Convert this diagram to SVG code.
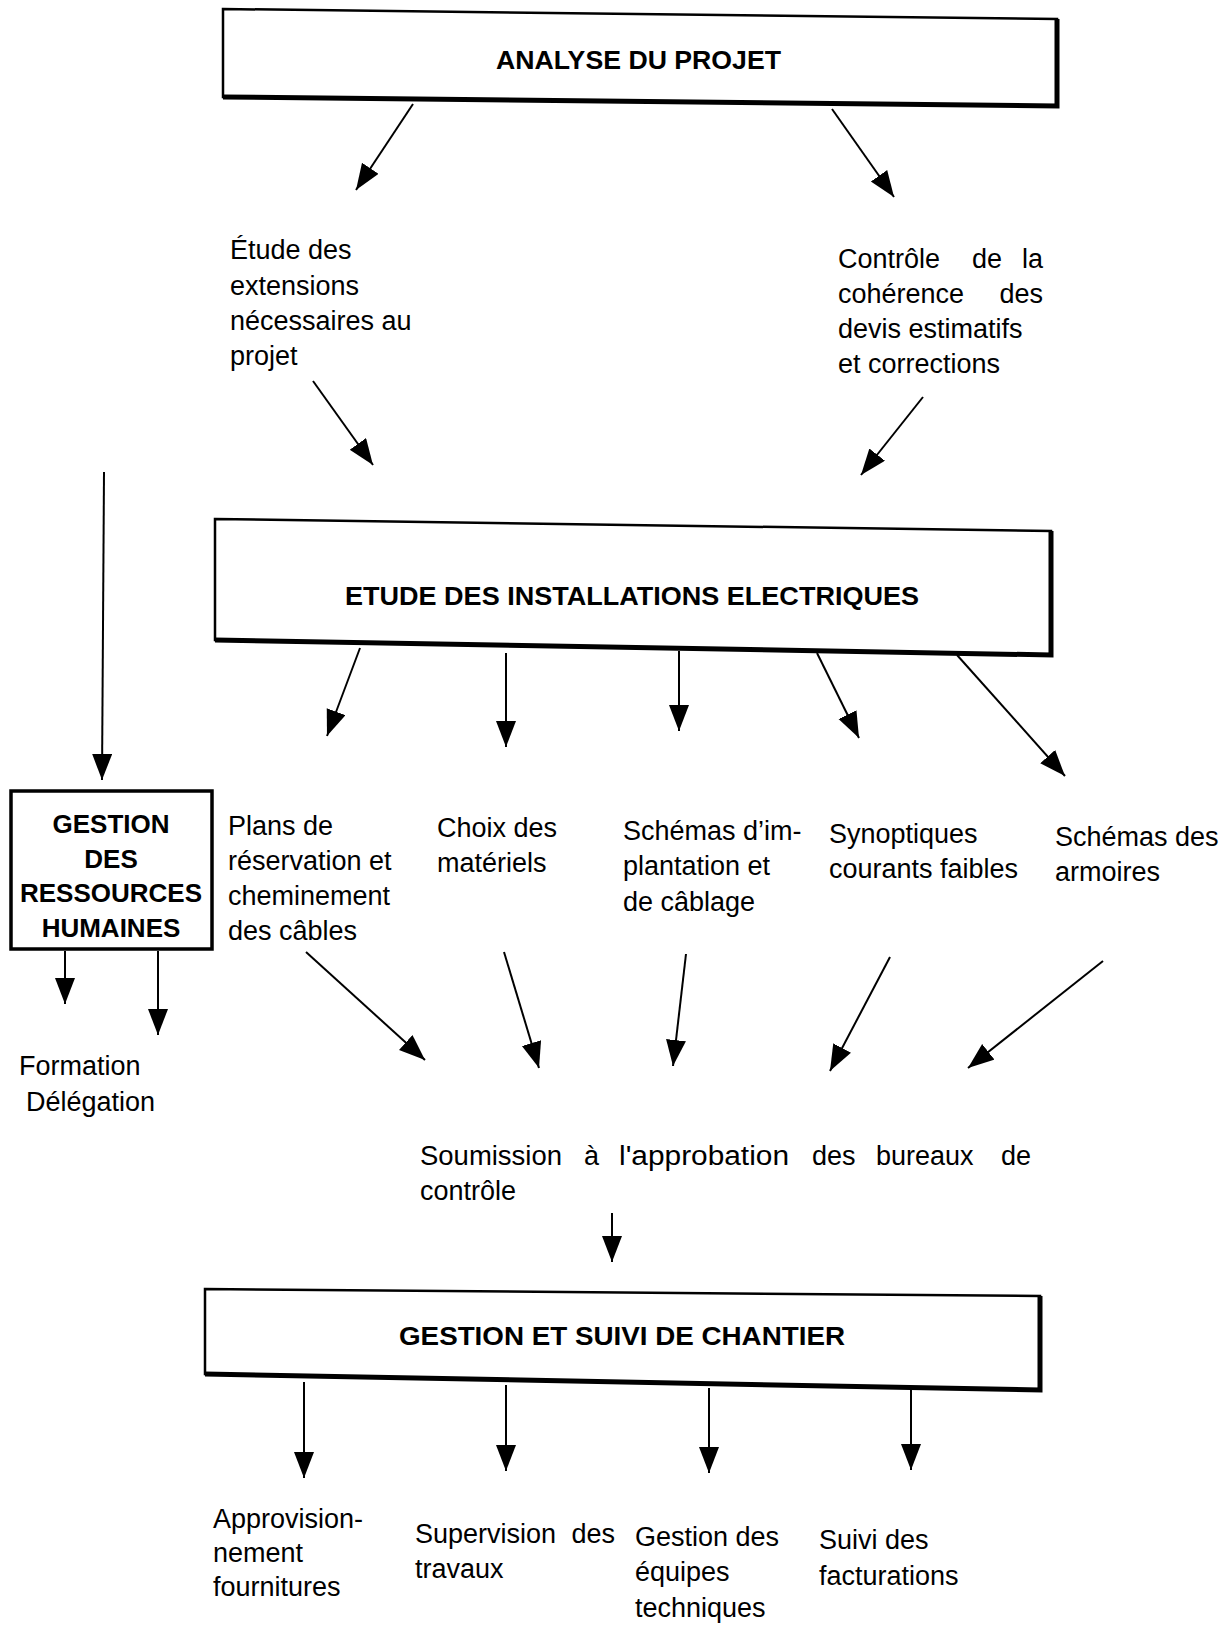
<svg xmlns="http://www.w3.org/2000/svg" width="1231" height="1626" viewBox="0 0 1231 1626">
  <style>
    .frame { fill: #fff; stroke: #000; stroke-width: 2.5; stroke-linejoin: miter; }
    .shade { fill: none; stroke: #000; stroke-width: 5; stroke-linejoin: miter; }
    .title { font-family: "Liberation Sans", Arial, sans-serif; font-weight: bold; font-size: 26px; fill: #000; }
    .label { font-family: "Liberation Sans", Arial, sans-serif; font-size: 27px; fill: #000; }
    .conn line { stroke: #000; stroke-width: 2; marker-end: url(#arrow); }
  </style>
  <defs>
    <marker id="arrow" markerUnits="userSpaceOnUse" markerWidth="28" markerHeight="22" refX="26" refY="10" orient="auto">
      <path d="M0,0 L26,10 L0,20 Z" fill="#000"/>
    </marker>
  </defs>
  <rect width="1231" height="1626" fill="#fff"/>

  <!-- Top box -->
  <g id="analyse">
    <polygon class="frame" points="223,9 1057,19 1057,106 223,97"/>
    <polyline class="shade" points="223,97 1057,106 1057,19"/>
    <text class="title" x="496" y="69" textLength="285" lengthAdjust="spacingAndGlyphs">ANALYSE DU PROJET</text>
  </g>

  <g id="etude-extensions">
    <text class="label" x="230" y="259">Étude des</text>
    <text class="label" x="230" y="295">extensions</text>
    <text class="label" x="230" y="330">nécessaires au</text>
    <text class="label" x="230" y="365">projet</text>
  </g>

  <g id="controle-devis">
    <text class="label" x="838" y="268">Contrôle</text>
    <text class="label" x="972" y="268">de</text>
    <text class="label" x="1043" y="268" text-anchor="end">la</text>
    <text class="label" x="838" y="303">cohérence</text>
    <text class="label" x="1043" y="303" text-anchor="end">des</text>
    <text class="label" x="838" y="338">devis estimatifs</text>
    <text class="label" x="838" y="373">et corrections</text>
  </g>

  <!-- Middle box -->
  <g id="etude-installations">
    <polygon class="frame" points="215,519 1051,531 1051,655 215,640"/>
    <polyline class="shade" points="215,640 1051,655 1051,531"/>
    <text class="title" x="345" y="605" font-size="28" textLength="574" lengthAdjust="spacingAndGlyphs">ETUDE DES INSTALLATIONS ELECTRIQUES</text>
  </g>

  <g id="ressources-humaines">
    <rect x="11" y="791" width="201" height="158" fill="#fff" stroke="#000" stroke-width="3.5"/>
    <text class="title" x="111" y="833" text-anchor="middle" font-size="25">GESTION</text>
    <text class="title" x="111" y="868" text-anchor="middle" font-size="25">DES</text>
    <text class="title" x="111" y="902" text-anchor="middle" font-size="25">RESSOURCES</text>
    <text class="title" x="111" y="937" text-anchor="middle" font-size="25">HUMAINES</text>
  </g>

  <g id="formation-delegation">
    <text class="label" x="19" y="1075">Formation</text>
    <text class="label" x="26" y="1111">Délégation</text>
  </g>

  <g id="plans-reservation">
    <text class="label" x="228" y="835">Plans de</text>
    <text class="label" x="228" y="870">réservation et</text>
    <text class="label" x="228" y="905">cheminement</text>
    <text class="label" x="228" y="940">des câbles</text>
  </g>

  <g id="choix-materiels">
    <text class="label" x="437" y="837">Choix des</text>
    <text class="label" x="437" y="872">matériels</text>
  </g>

  <g id="schemas-implantation">
    <text class="label" x="623" y="840">Schémas d’im-</text>
    <text class="label" x="623" y="875">plantation et</text>
    <text class="label" x="623" y="911">de câblage</text>
  </g>

  <g id="synoptiques">
    <text class="label" x="829" y="843">Synoptiques</text>
    <text class="label" x="829" y="878">courants faibles</text>
  </g>

  <g id="schemas-armoires">
    <text class="label" x="1055" y="846">Schémas des</text>
    <text class="label" x="1055" y="881">armoires</text>
  </g>

  <g id="soumission">
    <text class="label" x="420" y="1165" textLength="142" lengthAdjust="spacingAndGlyphs">Soumission</text>
    <text class="label" x="584" y="1165">à</text>
    <text class="label" x="619" y="1165" textLength="170" lengthAdjust="spacingAndGlyphs">l'approbation</text>
    <text class="label" x="812" y="1165">des</text>
    <text class="label" x="876" y="1165">bureaux</text>
    <text class="label" x="1031" y="1165" text-anchor="end">de</text>
    <text class="label" x="420" y="1200">contrôle</text>
  </g>

  <!-- Bottom box -->
  <g id="gestion-chantier">
    <polygon class="frame" points="205,1289 1040,1296 1040,1390 205,1374"/>
    <polyline class="shade" points="205,1374 1040,1390 1040,1296"/>
    <text class="title" x="399" y="1345" font-size="28" textLength="446" lengthAdjust="spacingAndGlyphs">GESTION ET SUIVI DE CHANTIER</text>
  </g>

  <g id="approvisionnement">
    <text class="label" x="213" y="1528">Approvision-</text>
    <text class="label" x="213" y="1562">nement</text>
    <text class="label" x="213" y="1596">fournitures</text>
  </g>

  <g id="supervision">
    <text class="label" x="415" y="1543">Supervision</text>
    <text class="label" x="615" y="1543" text-anchor="end">des</text>
    <text class="label" x="415" y="1578">travaux</text>
  </g>

  <g id="equipes">
    <text class="label" x="635" y="1546">Gestion des</text>
    <text class="label" x="635" y="1581">équipes</text>
    <text class="label" x="635" y="1617">techniques</text>
  </g>

  <g id="facturations">
    <text class="label" x="819" y="1549">Suivi des</text>
    <text class="label" x="819" y="1585">facturations</text>
  </g>

  <!-- Connectors -->
  <g id="connectors" class="conn">
    <line x1="413" y1="104" x2="356" y2="190"/>
    <line x1="832" y1="109" x2="894" y2="197"/>
    <line x1="313" y1="381" x2="373" y2="465"/>
    <line x1="923" y1="397" x2="861" y2="475"/>
    <line x1="104" y1="472" x2="102" y2="780"/>

    <line x1="360" y1="648" x2="327" y2="736"/>
    <line x1="506" y1="653" x2="506" y2="747"/>
    <line x1="679" y1="651" x2="679" y2="731"/>
    <line x1="817" y1="653" x2="859" y2="738"/>
    <line x1="957" y1="655" x2="1065" y2="776"/>

    <line x1="65" y1="951" x2="65" y2="1004"/>
    <line x1="158" y1="951" x2="158" y2="1035"/>

    <line x1="306" y1="952" x2="425" y2="1060"/>
    <line x1="504" y1="952" x2="539" y2="1068"/>
    <line x1="686" y1="954" x2="673" y2="1066"/>
    <line x1="890" y1="957" x2="830" y2="1071"/>
    <line x1="1103" y1="961" x2="968" y2="1068"/>

    <line x1="612" y1="1213" x2="612" y2="1262"/>

    <line x1="304" y1="1382" x2="304" y2="1478"/>
    <line x1="506" y1="1385" x2="506" y2="1471"/>
    <line x1="709" y1="1388" x2="709" y2="1473"/>
    <line x1="911" y1="1390" x2="911" y2="1470"/>
  </g>
</svg>
